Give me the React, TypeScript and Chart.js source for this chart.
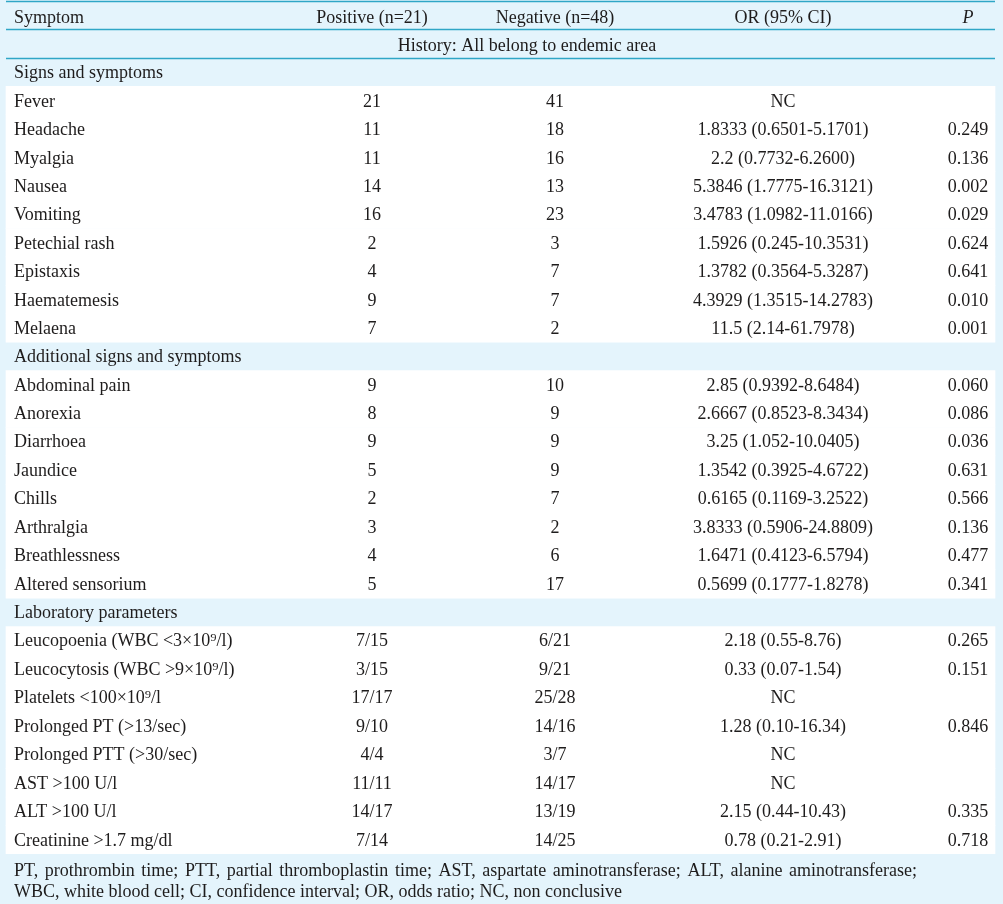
import React, { useEffect, useRef } from "react";
import { Chart, registerables } from "chart.js";

Chart.register(...registerables);

// ---------- DATA ----------
const columnHeaders = ["Symptom", "Positive (n=21)", "Negative (n=48)", "OR (95% CI)", "P"];
const historyNote = "History: All belong to endemic area";

const sectionTitles = ["Signs and symptoms", "Additional signs and symptoms", "Laboratory parameters"];

const signsNames = ["Fever", "Headache", "Myalgia", "Nausea", "Vomiting", "Petechial rash", "Epistaxis", "Haematemesis", "Melaena"];
const signsPositive = ["21", "11", "11", "14", "16", "2", "4", "9", "7"];
const signsNegative = ["41", "18", "16", "13", "23", "3", "7", "7", "2"];
const signsOR = ["NC", "1.8333 (0.6501-5.1701)", "2.2 (0.7732-6.2600)", "5.3846 (1.7775-16.3121)", "3.4783 (1.0982-11.0166)", "1.5926 (0.245-10.3531)", "1.3782 (0.3564-5.3287)", "4.3929 (1.3515-14.2783)", "11.5 (2.14-61.7978)"];
const signsP = ["", "0.249", "0.136", "0.002", "0.029", "0.624", "0.641", "0.010", "0.001"];

const addNames = ["Abdominal pain", "Anorexia", "Diarrhoea", "Jaundice", "Chills", "Arthralgia", "Breathlessness", "Altered sensorium"];
const addPositive = ["9", "8", "9", "5", "2", "3", "4", "5"];
const addNegative = ["10", "9", "9", "9", "7", "2", "6", "17"];
const addOR = ["2.85 (0.9392-8.6484)", "2.6667 (0.8523-8.3434)", "3.25 (1.052-10.0405)", "1.3542 (0.3925-4.6722)", "0.6165 (0.1169-3.2522)", "3.8333 (0.5906-24.8809)", "1.6471 (0.4123-6.5794)", "0.5699 (0.1777-1.8278)"];
const addP = ["0.060", "0.086", "0.036", "0.631", "0.566", "0.136", "0.477", "0.341"];

const labNames = ["Leucopoenia (WBC <3×10⁹/l)", "Leucocytosis (WBC >9×10⁹/l)", "Platelets <100×10⁹/l", "Prolonged PT (>13/sec)", "Prolonged PTT (>30/sec)", "AST >100 U/l", "ALT >100 U/l", "Creatinine >1.7 mg/dl"];
const labPositive = ["7/15", "3/15", "17/17", "9/10", "4/4", "11/11", "14/17", "7/14"];
const labNegative = ["6/21", "9/21", "25/28", "14/16", "3/7", "14/17", "13/19", "14/25"];
const labOR = ["2.18 (0.55-8.76)", "0.33 (0.07-1.54)", "NC", "1.28 (0.10-16.34)", "NC", "NC", "2.15 (0.44-10.43)", "0.78 (0.21-2.91)"];
const labP = ["0.265", "0.151", "", "0.846", "", "", "0.335", "0.718"];

const footnoteLines = [
  "PT, prothrombin time; PTT, partial thromboplastin time; AST, aspartate aminotransferase; ALT, alanine aminotransferase;",
  "WBC, white blood cell; CI, confidence interval; OR, odds ratio; NC, non conclusive",
];

// ---------- LAYOUT / STYLE ----------
const W = 1003;
const H = 904;
const TABLE_LEFT = 6;
const TABLE_RIGHT = 995;
const TEXT_LEFT = 14;
const FOOT_JUSTIFY_RIGHT = 917;
const COL_CENTERS = [0, 372, 555, 783, 968];
const HISTORY_CENTER = 527;
const BG_BLUE = "#e4f4fc";
const LINE_COLOR = "#2fa6c6";
const TEXT_COLOR = "#1e1c1c";
const FONT = '"Liberation Serif", "Times New Roman", serif';

type Row = { kind: "header" | "history" | "section" | "data"; cells: string[] };

function buildRows(): Row[] {
  const rows: Row[] = [];
  rows.push({ kind: "header", cells: columnHeaders });
  rows.push({ kind: "history", cells: [historyNote] });
  const groups = [
    [signsNames, signsPositive, signsNegative, signsOR, signsP],
    [addNames, addPositive, addNegative, addOR, addP],
    [labNames, labPositive, labNegative, labOR, labP],
  ];
  groups.forEach((g, gi) => {
    rows.push({ kind: "section", cells: [sectionTitles[gi]] });
    g[0].forEach((name, i) => {
      rows.push({ kind: "data", cells: [name, g[1][i], g[2][i], g[3][i], g[4][i]] });
    });
  });
  return rows;
}

export default function App() {
  const canvasRef = useRef<HTMLCanvasElement | null>(null);

  useEffect(() => {
    const canvas = canvasRef.current;
    if (!canvas) return;
    const rows = buildRows();
    const labels = rows.map((r, i) => `${i}:${r.cells[0]}`);

    const backgroundPlugin = {
      id: "tableBackground",
      beforeDraw(chart: any) {
        const ctx = chart.ctx;
        ctx.save();
        ctx.fillStyle = BG_BLUE;
        ctx.fillRect(0, 0, chart.width, chart.height);
        ctx.restore();
      },
    };

    const textPlugin = {
      id: "tableText",
      afterDatasetsDraw(chart: any) {
        const ctx = chart.ctx;
        const x = chart.scales.x;
        const y = chart.scales.y;
        const rowH = (y.bottom - y.top) / rows.length;
        ctx.save();
        // rules
        ctx.strokeStyle = LINE_COLOR;
        ctx.lineWidth = 1.5;
        const xl = x.getPixelForValue(TABLE_LEFT);
        const xr = x.getPixelForValue(TABLE_RIGHT);
        [0, 1, 2].forEach((b) => {
          const yy = y.getPixelForValue(b) - rowH / 2;
          ctx.beginPath();
          ctx.moveTo(xl, Math.round(yy) + 0.5);
          ctx.lineTo(xr, Math.round(yy) + 0.5);
          ctx.stroke();
        });
        // text
        ctx.fillStyle = TEXT_COLOR;
        ctx.textBaseline = "middle";
        rows.forEach((r, i) => {
          const off = r.kind === "header" || r.kind === "history" ? 3 : i < 12 ? 1.5 : 1;
          const yy = y.getPixelForValue(i) + off;
          if (r.kind === "history") {
            ctx.font = `18px ${FONT}`;
            ctx.textAlign = "center";
            ctx.fillText(r.cells[0], x.getPixelForValue(HISTORY_CENTER), yy);
            return;
          }
          r.cells.forEach((c, j) => {
            if (!c) return;
            const italic = r.kind === "header" && j === 4;
            ctx.font = `${italic ? "italic " : ""}18px ${FONT}`;
            if (j === 0) {
              ctx.textAlign = "left";
              ctx.fillText(c, x.getPixelForValue(TEXT_LEFT), yy);
            } else {
              ctx.textAlign = "center";
              ctx.fillText(c, x.getPixelForValue(COL_CENTERS[j]), yy);
            }
          });
        });
        // footnote (first line justified, last line left-aligned)
        ctx.font = `18px ${FONT}`;
        ctx.textAlign = "left";
        const fy = y.bottom + 17;
        const left = x.getPixelForValue(TEXT_LEFT);
        const right = x.getPixelForValue(FOOT_JUSTIFY_RIGHT);
        footnoteLines.forEach((line, k) => {
          const ly = fy + k * 21;
          if (k < footnoteLines.length - 1) {
            const words = line.split(" ");
            const wordsW = words.reduce((s, w) => s + ctx.measureText(w).width, 0);
            const gap = (right - left - wordsW) / (words.length - 1);
            let cx = left;
            words.forEach((w) => {
              ctx.fillText(w, cx, ly);
              cx += ctx.measureText(w).width + gap;
            });
          } else {
            ctx.fillText(line, left, ly);
          }
        });
        ctx.restore();
      },
    };

    const chart = new Chart(canvas, {
      type: "bar",
      data: {
        labels,
        datasets: [
          {
            label: "rows",
            data: rows.map((r) => (r.kind === "data" ? [TABLE_LEFT, TABLE_RIGHT] : null)) as any,
            backgroundColor: "#ffffff",
            borderWidth: 0,
            barPercentage: 1,
            categoryPercentage: 1,
          },
        ],
      },
      options: {
        indexAxis: "y",
        responsive: false,
        maintainAspectRatio: false,
        animation: false,
        devicePixelRatio: 1,
        layout: { padding: { top: 1, bottom: 50, left: 0, right: 0 } },
        scales: {
          x: { type: "linear", min: 0, max: W, display: false },
          y: { type: "category", display: false, offset: true },
        },
        plugins: {
          legend: { display: false },
          tooltip: { enabled: false },
        },
      },
      plugins: [backgroundPlugin, textPlugin],
    });
    return () => chart.destroy();
  }, []);

  return (
    <div style={{ position: "fixed", left: 0, top: 0, width: W, height: H }}>
      <canvas ref={canvasRef} width={W} height={H} style={{ display: "block", width: W, height: H }} />
    </div>
  );
}
